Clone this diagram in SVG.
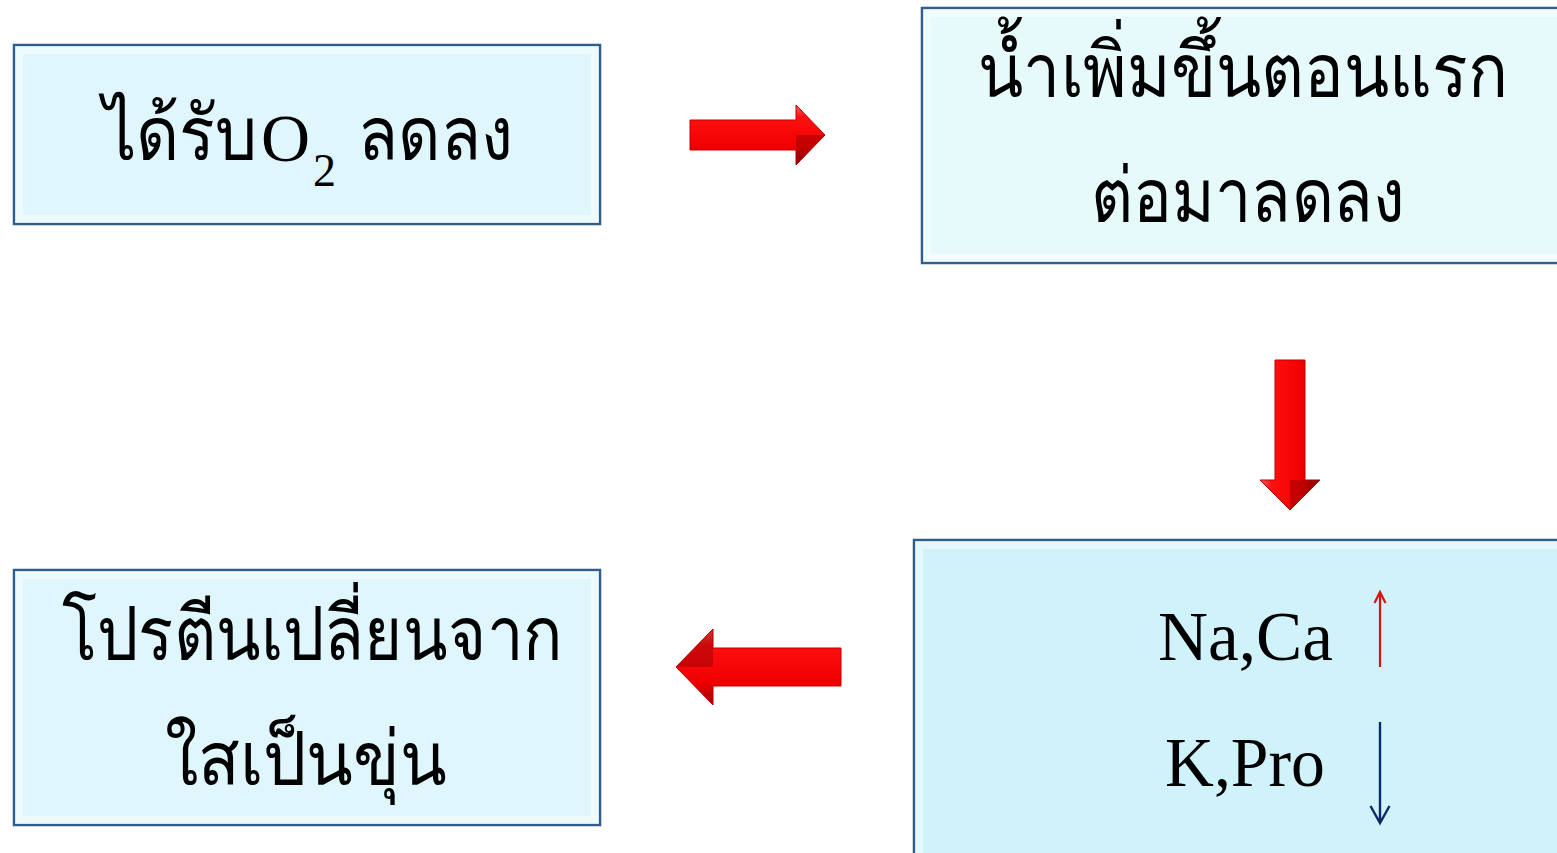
<svg xmlns="http://www.w3.org/2000/svg" width="1557" height="853" viewBox="0 0 1557 853">
<style>
.box{stroke:#2f5d8c;stroke-width:2.5}
.bevel{fill:none;stroke:#ffffff;stroke-opacity:0.45;stroke-width:8}
.t{font-family:"Liberation Serif","DejaVu Serif","Noto Sans",serif;fill:#000}
.th{font-size:76px}
.lat{font-size:70px}
.arrow{stroke:#c00000;stroke-width:1}
.shade{fill:#700000;fill-opacity:0.35}
</style>
<defs>
<linearGradient id="gh" x1="0" y1="0" x2="0" y2="1">
<stop offset="0" stop-color="#ff5a5a"/>
<stop offset="0.2" stop-color="#ff1010"/>
<stop offset="0.7" stop-color="#f00000"/>
<stop offset="1" stop-color="#9a0000"/>
</linearGradient>
<linearGradient id="gv" x1="0" y1="0" x2="1" y2="0">
<stop offset="0" stop-color="#ff5a5a"/>
<stop offset="0.2" stop-color="#ff1010"/>
<stop offset="0.7" stop-color="#f00000"/>
<stop offset="1" stop-color="#9a0000"/>
</linearGradient>
</defs>

<g id="node1">
<rect class="box" x="14" y="45" width="586" height="179" fill="#dff7fc"/>
<rect class="bevel" x="19" y="50" width="576" height="169"/>
<text class="t th" x="103" y="160" textLength="154" lengthAdjust="spacingAndGlyphs">ได้รับ</text>
<text class="t" x="261" y="161" style="font-size:68px">O</text>
<text class="t" x="313" y="186" style="font-size:46px">2</text>
<text class="t th" x="358" y="160" textLength="155" lengthAdjust="spacingAndGlyphs">ลดลง</text>
</g>

<g id="node2">
<rect class="box" x="922" y="8" width="650" height="255" fill="#e6fafb"/>
<rect class="bevel" x="927" y="13" width="640" height="245"/>
<text class="t th" x="978" y="97" textLength="530" lengthAdjust="spacingAndGlyphs">น้ำเพิ่มขึ้นตอนแรก</text>
<text class="t th" x="1091" y="222" textLength="314" lengthAdjust="spacingAndGlyphs">ต่อมาลดลง</text>
</g>

<g id="node3">
<rect class="box" x="914" y="540" width="660" height="330" fill="#cff2fb"/>
<rect class="bevel" x="919" y="545" width="650" height="320"/>
<text class="t lat" x="1158" y="660" textLength="175" lengthAdjust="spacingAndGlyphs">Na,Ca</text>
<text class="t lat" x="1165" y="786" textLength="160" lengthAdjust="spacingAndGlyphs">K,Pro</text>
<g id="up" fill="none" stroke="#e01010" stroke-width="2.2">
<line x1="1380" y1="667" x2="1380" y2="593"/>
<path d="M1374.5,603 L1380,592 L1385.5,603"/>
</g>
<g id="down" fill="none" stroke="#0d2a66" stroke-width="2.4">
<line x1="1380" y1="722" x2="1380" y2="822"/>
<path d="M1370.5,806 L1380,823 L1389.5,806"/>
</g>
</g>

<g id="node4">
<rect class="box" x="14" y="570" width="586" height="255" fill="#dff7fc"/>
<rect class="bevel" x="19" y="575" width="576" height="245"/>
<text class="t th" x="62" y="660" textLength="501" lengthAdjust="spacingAndGlyphs">โปรตีนเปลี่ยนจาก</text>
<text class="t th" x="165" y="785" textLength="282" lengthAdjust="spacingAndGlyphs">ใสเป็นขุ่น</text>
</g>

<g id="connectors">
<g id="arrow-right">
<path class="arrow" d="M690,120 L796,120 L796,105 L825,135 L796,165 L796,150 L690,150 Z" fill="url(#gh)"/>
<path class="shade" d="M796,135 L825,135 L796,165 Z"/>
</g>
<g id="arrow-down">
<path class="arrow" d="M1275,360 L1305,360 L1305,480 L1320,480 L1290,510 L1260,480 L1275,480 Z" fill="url(#gv)"/>
<path class="shade" d="M1290,480 L1320,480 L1290,510 Z"/>
</g>
<g id="arrow-left">
<path class="arrow" d="M841,648 L713,648 L713,629 L676,667 L713,705 L713,686 L841,686 Z" fill="url(#gh)"/>
<path class="shade" d="M713,629 L676,667 L713,667 Z"/>
</g>
</g>
</svg>
